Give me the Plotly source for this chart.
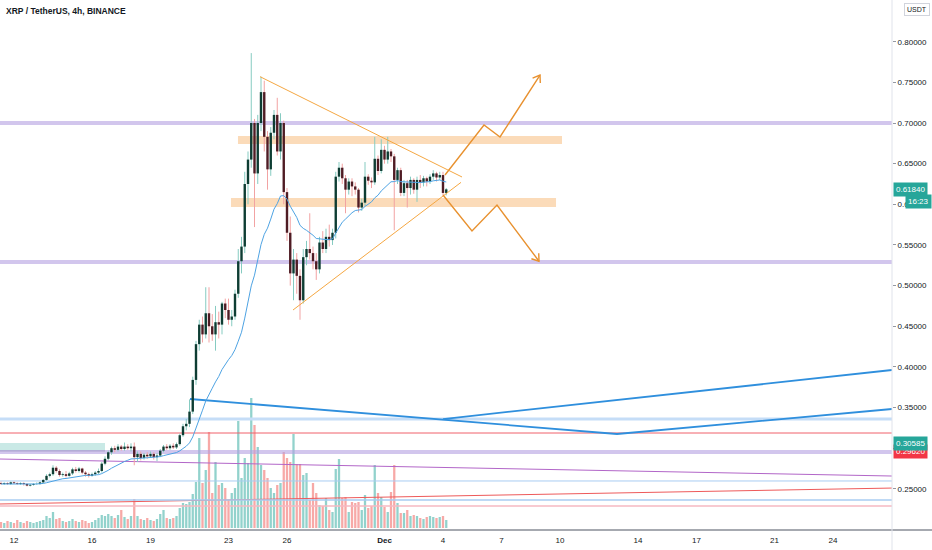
import numpy as np
import pandas as pd
import plotly.graph_objects as go

# XRP/USDT 4h candles, Nov 11 08:00 -> Dec 4 04:00 (2020)
open_ = [0.257, 0.256, 0.257, 0.256, 0.258, 0.257, 0.256, 0.257, 0.256, 0.254,
         0.255, 0.256, 0.256, 0.258, 0.261, 0.266, 0.268, 0.276, 0.272, 0.267,
         0.268, 0.266, 0.269, 0.274, 0.272, 0.275, 0.270, 0.268, 0.266, 0.268,
         0.270, 0.272, 0.281, 0.287, 0.295, 0.300, 0.298, 0.302, 0.299, 0.302,
         0.300, 0.302, 0.289, 0.293, 0.288, 0.292, 0.290, 0.293, 0.289, 0.291,
         0.297, 0.302, 0.300, 0.303, 0.301, 0.305, 0.316, 0.327, 0.330, 0.345,
         0.384, 0.428, 0.452, 0.440, 0.466, 0.450, 0.440, 0.455, 0.452, 0.478,
         0.470, 0.458, 0.462, 0.490, 0.530, 0.548, 0.625, 0.655, 0.700, 0.638,
         0.700, 0.738, 0.683, 0.643, 0.688, 0.710, 0.665, 0.700, 0.615, 0.565,
         0.515, 0.532, 0.512, 0.482, 0.535, 0.545, 0.540, 0.530, 0.520, 0.553,
         0.545, 0.560, 0.556, 0.565, 0.634, 0.645, 0.632, 0.618, 0.628, 0.622,
         0.618, 0.596, 0.602, 0.634, 0.629, 0.627, 0.656, 0.641, 0.667, 0.655,
         0.665, 0.659, 0.630, 0.642, 0.614, 0.626, 0.620, 0.630, 0.618, 0.630,
         0.627, 0.632, 0.628, 0.634, 0.638, 0.633, 0.636, 0.614]
high = [0.259, 0.258, 0.258, 0.259, 0.259, 0.258, 0.258, 0.258, 0.257, 0.256,
        0.257, 0.258, 0.259, 0.262, 0.268, 0.270, 0.279, 0.278, 0.274, 0.270,
        0.272, 0.271, 0.276, 0.277, 0.277, 0.276, 0.272, 0.270, 0.270, 0.272,
        0.275, 0.283, 0.290, 0.297, 0.302, 0.303, 0.305, 0.304, 0.307, 0.305,
        0.306, 0.307, 0.296, 0.296, 0.294, 0.295, 0.296, 0.295, 0.294, 0.299,
        0.304, 0.305, 0.305, 0.306, 0.307, 0.318, 0.330, 0.336, 0.360, 0.388,
        0.432, 0.458, 0.462, 0.498, 0.498, 0.465, 0.475, 0.468, 0.480, 0.484,
        0.484, 0.470, 0.495, 0.545, 0.560, 0.640, 0.665, 0.786, 0.705, 0.710,
        0.757, 0.752, 0.690, 0.695, 0.716, 0.731, 0.712, 0.703, 0.620, 0.585,
        0.545, 0.540, 0.520, 0.545, 0.555, 0.589, 0.548, 0.540, 0.560, 0.567,
        0.570, 0.575, 0.570, 0.640, 0.652, 0.650, 0.636, 0.632, 0.632, 0.627,
        0.620, 0.607, 0.652, 0.637, 0.633, 0.683, 0.660, 0.680, 0.672, 0.683,
        0.668, 0.662, 0.645, 0.645, 0.630, 0.630, 0.634, 0.632, 0.634, 0.636,
        0.635, 0.634, 0.637, 0.642, 0.640, 0.640, 0.640, 0.620]
low = [0.255, 0.255, 0.255, 0.255, 0.256, 0.255, 0.255, 0.254, 0.253, 0.253,
       0.254, 0.255, 0.255, 0.257, 0.260, 0.264, 0.266, 0.270, 0.265, 0.265,
       0.264, 0.265, 0.267, 0.270, 0.270, 0.268, 0.265, 0.264, 0.265, 0.266,
       0.268, 0.270, 0.279, 0.285, 0.292, 0.295, 0.296, 0.297, 0.297, 0.298,
       0.296, 0.279, 0.283, 0.285, 0.286, 0.287, 0.288, 0.286, 0.284, 0.289,
       0.295, 0.298, 0.298, 0.299, 0.299, 0.303, 0.314, 0.322, 0.326, 0.342,
       0.378, 0.420, 0.430, 0.435, 0.430, 0.432, 0.420, 0.435, 0.440, 0.460,
       0.452, 0.450, 0.458, 0.485, 0.515, 0.540, 0.600, 0.645, 0.572, 0.625,
       0.690, 0.665, 0.618, 0.635, 0.680, 0.660, 0.655, 0.600, 0.555, 0.500,
       0.482, 0.490, 0.458, 0.478, 0.525, 0.532, 0.520, 0.507, 0.515, 0.540,
       0.540, 0.548, 0.550, 0.558, 0.628, 0.625, 0.589, 0.612, 0.610, 0.612,
       0.590, 0.592, 0.598, 0.624, 0.620, 0.624, 0.636, 0.638, 0.650, 0.650,
       0.652, 0.568, 0.625, 0.610, 0.610, 0.596, 0.612, 0.613, 0.603, 0.620,
       0.622, 0.622, 0.625, 0.630, 0.628, 0.630, 0.611, 0.611]
close = [0.256, 0.257, 0.256, 0.258, 0.257, 0.256, 0.257, 0.256, 0.254, 0.255,
         0.256, 0.256, 0.258, 0.261, 0.266, 0.268, 0.276, 0.272, 0.267, 0.268,
         0.266, 0.269, 0.274, 0.272, 0.275, 0.270, 0.268, 0.266, 0.268, 0.270,
         0.272, 0.281, 0.287, 0.295, 0.300, 0.298, 0.302, 0.299, 0.302, 0.300,
         0.302, 0.289, 0.293, 0.288, 0.292, 0.290, 0.293, 0.289, 0.291, 0.297,
         0.302, 0.300, 0.303, 0.301, 0.305, 0.316, 0.327, 0.330, 0.345, 0.384,
         0.428, 0.452, 0.440, 0.466, 0.450, 0.440, 0.455, 0.452, 0.478, 0.470,
         0.458, 0.462, 0.490, 0.530, 0.548, 0.625, 0.655, 0.700, 0.638, 0.700,
         0.738, 0.683, 0.643, 0.688, 0.710, 0.665, 0.700, 0.615, 0.565, 0.515,
         0.532, 0.512, 0.482, 0.535, 0.545, 0.540, 0.530, 0.520, 0.553, 0.545,
         0.560, 0.556, 0.565, 0.634, 0.645, 0.632, 0.618, 0.628, 0.622, 0.618,
         0.596, 0.602, 0.634, 0.629, 0.627, 0.656, 0.641, 0.667, 0.655, 0.665,
         0.659, 0.630, 0.642, 0.614, 0.626, 0.620, 0.630, 0.618, 0.630, 0.627,
         0.632, 0.628, 0.634, 0.638, 0.633, 0.636, 0.614, 0.6184]
volume = [6, 5, 7, 6, 5, 8, 6, 5, 7, 6,
          5, 6, 7, 8, 12, 10, 16, 9, 10, 7,
          6, 7, 9, 7, 6, 8, 7, 5, 6, 8,
          10, 13, 12, 14, 12, 10, 13, 18, 11, 9,
          12, 29, 12, 9, 8, 10, 8, 7, 9, 14,
          18, 10, 9, 10, 12, 20, 25, 24, 26, 34,
          46, 90, 45, 58, 96, 35, 66, 43, 45, 40,
          28, 35, 40, 107, 50, 70, 65, 130, 103, 81,
          63, 58, 50, 40, 35, 43, 45, 76, 70, 66,
          94, 64, 64, 53, 55, 28, 45, 35, 23, 22,
          30, 18, 16, 59, 69, 30, 31, 16, 26, 25,
          26, 18, 33, 20, 22, 63, 35, 31, 21, 16,
          36, 63, 25, 15, 15, 18, 12, 13, 12, 10,
          9, 11, 12, 11, 10, 11, 12, 8]  # millions

# drawings on the chart (time, price)
left_edge, right_edge = "2020-11-11 06:46", "2020-12-27 00:37"
price_range = [0.1994, 0.8513]
purple_levels = [0.700, 0.529, 0.2953]
zone_hi = ("2020-11-23 11:41", "2020-12-10 02:28", 0.6742, 0.684)
zone_lo = ("2020-11-23 03:04", "2020-12-09 19:05", 0.5967, 0.6077)
tri_upper_t = ["2020-11-24 14:46", "2020-12-04 23:23"]
tri_upper_p = [0.757, 0.6336]
tri_lower_t = ["2020-11-26 07:23", "2020-12-04 22:09"]
tri_lower_p = [0.470, 0.627]
zig_up_t = ["2020-12-04 02:28", "2020-12-06 02:28", "2020-12-06 22:09", "2020-12-08 23:23"]
zig_up_p = [0.636, 0.6975, 0.6828, 0.759]
zig_dn_t = ["2020-12-04 00:00", "2020-12-05 11:41", "2020-12-06 18:27", "2020-12-08 22:09"]
zig_dn_p = [0.6114, 0.5672, 0.599, 0.530]
blue_a_t = ["2020-11-21 00:37", "2020-12-12 22:09", right_edge]
blue_a_p = [0.3605, 0.3175, 0.3482]
blue_b_t = ["2020-12-04 00:00", right_edge]
blue_b_p = [0.3359, 0.3962]
green_box = ("2020-11-10 00:00", "2020-11-16 16:00", 0.2966, 0.3064)
# thin horizontal / sloped lines at the bottom: (price at left, price at right, color, width)
bottom_lines = [
    (0.3359, 0.3359, "#c5ddf7", 3),
    (0.3187, 0.3187, "#f0606a", 1),
    (0.2867, 0.2658, "#b266c8", 1),
    (0.2597, 0.2597, "#a9cdf2", 1),
    (0.2314, 0.2510, "#ee5a5a", 1),
    (0.2363, 0.2363, "#a9cdf2", 1.3),
    (0.2289, 0.2289, "#f6b9c2", 1.3),
]

x_ticks = ["2020-11-12", "2020-11-16", "2020-11-19", "2020-11-23", "2020-11-26", "2020-12-01",
           "2020-12-04", "2020-12-07", "2020-12-10", "2020-12-14", "2020-12-17", "2020-12-21", "2020-12-24"]
x_labels = ["12", "16", "19", "23", "26", "<b>Dec</b>", "4", "7", "10", "14", "17", "21", "24"]
y_ticks = [0.25, 0.30, 0.35, 0.40, 0.45, 0.50, 0.55, 0.60, 0.65, 0.70, 0.75, 0.80]

W, H = 932, 550
ML, MR, MT, MB = 0, 40, 0, 20
PW, PH = W - ML - MR, H - MT - MB

dates = pd.date_range("2020-11-11 08:00", periods=len(close), freq="4h")
o = np.array(open_)
c = np.array(close)
up = c >= o
ema = pd.Series(close).ewm(span=20, adjust=False).mean()

t_left, t_right = pd.Timestamp(left_edge), pd.Timestamp(right_edge)


def to_px(t, p):
    fx = (pd.Timestamp(t) - t_left) / (t_right - t_left)
    fy = (p - price_range[0]) / (price_range[1] - price_range[0])
    return fx * PW, fy * PH


def from_px(x, y):
    t = t_left + (t_right - t_left) * (x / PW)
    p = price_range[0] + (price_range[1] - price_range[0]) * (y / PH)
    return t, p


def chevron(t_from, p_from, t_tip, p_tip, size=8, angle=35):
    x0, y0 = to_px(t_from, p_from)
    x1, y1 = to_px(t_tip, p_tip)
    d = np.array([x0 - x1, y0 - y1])
    d = d / np.hypot(*d)
    xs, ys = [], []
    for s in (1, -1):
        a = np.radians(angle * s)
        r = np.array([d[0] * np.cos(a) - d[1] * np.sin(a), d[0] * np.sin(a) + d[1] * np.cos(a)])
        t, p = from_px(x1 + r[0] * size, y1 + r[1] * size)
        xs.append(t)
        ys.append(p)
    return [xs[0], pd.Timestamp(t_tip), xs[1]], [ys[0], p_tip, ys[1]]


fig = go.Figure()

# volume on the base axis
fig.add_trace(go.Bar(x=dates, y=volume, yaxis="y", width=4 * 3600 * 1000 * 0.7,
                     marker=dict(color=np.where(up, "rgba(38,166,154,0.5)", "rgba(239,83,80,0.5)"), line_width=0),
                     hoverinfo="skip"))

P = dict(xaxis="x", yaxis="y2", hoverinfo="skip", showlegend=False)

# zones & levels
for t0, t1, p0, p1 in [zone_hi, zone_lo]:
    fig.add_trace(go.Scatter(x=[t0, t1, t1, t0, t0], y=[p0, p0, p1, p1, p0], fill="toself",
                             fillcolor="rgba(245,160,70,0.38)", mode="lines", line_width=0, **P))
t0, t1, p0, p1 = green_box
fig.add_trace(go.Scatter(x=[t0, t1, t1, t0, t0], y=[p0, p0, p1, p1, p0], fill="toself",
                         fillcolor="rgba(38,166,154,0.25)", mode="lines", line_width=0, **P))
fig.add_trace(go.Scatter(x=[t0, t1], y=[p0, p0], mode="lines", line=dict(color="#9a9ea8", width=1), **P))
for lvl in purple_levels:
    fig.add_trace(go.Scatter(x=[left_edge, right_edge], y=[lvl, lvl], mode="lines",
                             line=dict(color="rgba(180,160,225,0.6)", width=4), **P))
for pl, pr, col, w in bottom_lines:
    fig.add_trace(go.Scatter(x=[left_edge, right_edge], y=[pl, pr], mode="lines",
                             line=dict(color=col, width=w), **P))
for tt, pp in [(blue_a_t, blue_a_p), (blue_b_t, blue_b_p)]:
    fig.add_trace(go.Scatter(x=tt, y=pp, mode="lines", line=dict(color="#2f8fdd", width=1.8), **P))


# candles: wicks then bodies
def segs(ts, a, b):
    xs, ys = [], []
    for t, v0, v1 in zip(ts, a, b):
        xs += [t, t, None]
        ys += [v0, v1, None]
    return xs, ys


for mask, wick_col, body_col in [(up, "#86cbc1", "#0e3d33"), (~up, "#f2a3a3", "#4f1c24")]:
    ts = dates[mask]
    xs, ys = segs(ts, np.array(low)[mask], np.array(high)[mask])
    fig.add_trace(go.Scatter(x=xs, y=ys, mode="lines", line=dict(color=wick_col, width=1), **P))
    xs, ys = segs(ts, o[mask], c[mask])
    fig.add_trace(go.Scatter(x=xs, y=ys, mode="lines", line=dict(color=body_col, width=2.4), **P))

fig.add_trace(go.Scatter(x=dates, y=ema, mode="lines", line=dict(color="#4ea3e3", width=1), **P))

# triangle and projected paths
for tt, pp in [(tri_upper_t, tri_upper_p), (tri_lower_t, tri_lower_p)]:
    fig.add_trace(go.Scatter(x=tt, y=pp, mode="lines", line=dict(color="#f5a742", width=1), **P))
for tt, pp in [(zig_up_t, zig_up_p), (zig_dn_t, zig_dn_p)]:
    fig.add_trace(go.Scatter(x=tt, y=pp, mode="lines", line=dict(color="#e8912f", width=1.4), **P))
    hx, hy = chevron(tt[-2], pp[-2], tt[-1], pp[-1])
    fig.add_trace(go.Scatter(x=hx, y=hy, mode="lines", line=dict(color="#e8912f", width=1.4), **P))


# right-hand price labels
def price_tag(p, txt, bg, shift=1):
    fig.add_annotation(x=1, xref="paper", y=p, yref="y2", xanchor="left", xshift=shift, text=txt,
                       showarrow=False, bgcolor=bg, borderpad=2, font=dict(color="white", size=8))


price_tag(0.2962, "0.29620", "#f23645")
price_tag(0.30585, "0.30585", "#26a69a")
price_tag(0.6184, "0.61840", "#26a69a")
price_tag(0.6035, "16:23", "#26a69a", shift=13)

fig.add_annotation(x=1, xref="paper", xanchor="left", xshift=12, y=1, yref="paper", yanchor="top", yshift=-3,
                   text="USDT", showarrow=False, bgcolor="white", bordercolor="#d1d4dc", borderwidth=1,
                   borderpad=2, font=dict(size=7))
fig.add_annotation(x=0, xref="paper", xanchor="left", xshift=4, y=1, yref="paper", yanchor="top", yshift=-4,
                   text="XRP / TetherUS, 4h, BINANCE", showarrow=False,
                   font=dict(size=8.5, color="#131722", weight=600))

fig.update_layout(
    width=W, height=H,
    margin=dict(l=ML, r=MR, t=MT, b=MB),
    paper_bgcolor="white", plot_bgcolor="white",
    showlegend=False, barmode="overlay",
    font=dict(family="Liberation Sans", size=8, color="#131722"),
    xaxis=dict(type="date", range=[left_edge, right_edge], tickvals=x_ticks, ticktext=x_labels,
               showgrid=False, zeroline=False, showline=False, ticks="", ticklabelstandoff=4,
               rangeslider=dict(visible=False)),
    yaxis=dict(range=[-2, 528], visible=False, showgrid=False),
    yaxis2=dict(overlaying="y", side="right", range=price_range, tickvals=y_ticks,
                ticktext=[f"{v:.5f}" for v in y_ticks], showgrid=False, zeroline=False,
                ticks="outside", ticklen=3, tickcolor="#9598a1", showline=False, automargin=False),
    shapes=[
        dict(type="line", xref="paper", yref="paper", x0=0, x1=1.06, y0=0, y1=0,
             line=dict(color="#a6a9b0", width=2)),
        dict(type="line", xref="paper", yref="paper", x0=1, x1=1, y0=-0.04, y1=1,
             line=dict(color="#e0e3eb", width=1)),
    ],
)

fig.write_html("out.html", config={"displayModeBar": False},
               post_script="document.body.style.margin='0';")
